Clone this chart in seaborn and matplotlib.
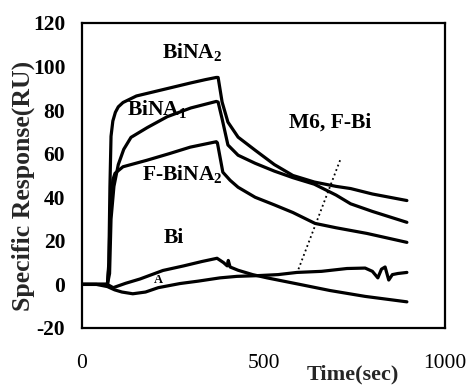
import matplotlib
matplotlib.use("Agg")
import matplotlib.pyplot as plt
import numpy as np
import pandas as pd
import seaborn as sns

# ---------------- data ----------------
bina2_t = [0, 40, 70, 74, 77, 80, 85, 92, 100, 113, 150, 200, 250, 300, 340, 370,
           375, 386, 402, 430, 477, 530, 581, 640, 700, 740, 800, 895]
bina2_v = [0, 0, 0, 10, 45, 68, 75, 79, 81.5, 83.5, 86.5, 88.5, 90.5, 92.5, 94, 95,
           95, 83.7, 74.5, 67.6, 61.6, 55, 50, 47, 45, 44, 41.5, 38.5]

bina1_t = [0, 40, 70, 76, 80, 88, 100, 115, 135, 180, 235, 300, 370,
           375, 386, 402, 430, 477, 530, 581, 640, 700, 740, 800, 895]
bina1_v = [0, 0, 0, 5, 30, 45, 55, 62, 67.5, 72, 77, 81, 84,
           83.7, 76, 64, 59.3, 55.6, 52, 49, 46, 41, 37, 33.5, 28.5]

fbina2_t = [0, 40, 70, 74, 78, 85, 91, 113, 179, 240, 298, 370,
            373, 388, 408, 430, 477, 530, 581, 642, 700, 785, 895]
fbina2_v = [0, 0, 0, 8, 35, 48, 51, 54, 57, 60, 63, 65.5,
            65, 51.5, 47.8, 44.6, 40, 36.5, 33, 28, 26, 23.4, 19.3]

bi_t = [0, 40, 70, 86, 120, 160, 223, 280, 330, 372, 390, 400, 403, 408,
        430, 470, 510, 600, 683, 780, 895]
bi_v = [0, 0, 0, -1.5, 0.5, 2.5, 6.4, 8.5, 10.5, 12, 10, 8.5, 11, 8,
        6.5, 4.5, 3, 0, -2.8, -5.5, -8]

a_t = [0, 40, 70, 90, 110, 140, 175, 210, 270, 320, 380, 427, 480, 540, 592,
       660, 730, 780, 800, 815, 825, 835, 845, 855, 870, 895]
a_v = [0, 0, -1, -2.5, -3.5, -4.3, -3.5, -1.5, 0.4, 1.5, 3, 3.7, 4, 4.5, 5.5,
       6, 7.3, 7.5, 6, 3, 7, 8, 2, 4.5, 5, 5.5]

pointer_t = [711, 595]
pointer_v = [57, 6.4]

series_names = ["BiNA2", "BiNA1", "F-BiNA2", "Bi", "A"]
series_t = [bina2_t, bina1_t, fbina2_t, bi_t, a_t]
series_v = [bina2_v, bina1_v, fbina2_v, bi_v, a_v]

x_ticks = [0, 500, 1000]
y_ticks = [-20, 0, 20, 40, 60, 80, 100, 120]

labels_text = ["BiNA$_2$", "BiNA$_1$", "F-BiNA$_2$", "Bi", "M6, F-Bi"]
labels_t = [303, 207, 277, 253, 683]
labels_v = [104, 77.7, 47.8, 18.9, 72]

# ---------------- style ----------------
sns.set_theme(style="white")
plt.rcParams["font.family"] = ["Liberation Serif", "DejaVu Serif"]
plt.rcParams["mathtext.fontset"] = "custom"
plt.rcParams["mathtext.rm"] = "Liberation Serif:bold"
plt.rcParams["mathtext.it"] = "Liberation Serif:bold"
plt.rcParams["mathtext.bf"] = "Liberation Serif:bold"
plt.rcParams["mathtext.default"] = "rm"

df = pd.concat(
    [pd.DataFrame({"time": t, "response": v, "series": n})
     for n, t, v in zip(series_names, series_t, series_v)],
    ignore_index=True,
)

fig = plt.figure(figsize=(4.72, 3.85), dpi=100)
ax = fig.add_axes([0.1737, 0.1481, 0.7691, 0.7922])

sns.lineplot(data=df, x="time", y="response", units="series", estimator=None,
             color="black", linewidth=2.3, legend=False, ax=ax, sort=False)
sns.lineplot(x=pointer_t, y=pointer_v, color="black", linewidth=1.3,
             linestyle=":", ax=ax, sort=False)

for txt, tx, vy in zip(labels_text, labels_t, labels_v):
    ax.text(tx, vy, txt, ha="center", va="baseline", fontsize=15.5,
            fontweight="bold", color="black")
ax.text(210, 0.5, "A", ha="center", va="baseline", fontsize=9,
        fontweight="bold", color="black")

ax.set_xlim(0, 1000)
ax.set_ylim(-20, 120)
ax.set_xticks(x_ticks)
ax.set_yticks(y_ticks)
ax.set_xticklabels([str(v) for v in x_ticks], fontsize=15.5)
ax.set_yticklabels([str(v) for v in y_ticks], fontsize=15.5, fontweight="bold")
ax.tick_params(axis="both", direction="in", length=3, width=1, colors="black")
ax.tick_params(axis="x", pad=19)
ax.tick_params(axis="y", pad=12)

for s in ax.spines.values():
    s.set_visible(True)
    s.set_linewidth(1.6)
    s.set_color("black")

ax.set_xlabel("Time(sec)", fontsize=16, fontweight="bold")
ax.xaxis.label.set_va("center")
ax.xaxis.set_label_coords(0.747, -0.154)
ax.set_ylabel("Specific Response(RU)", fontsize=18.5, fontweight="bold")
ax.yaxis.label.set_va("center")
ax.yaxis.set_label_coords(-0.161, (328 - 186) / 305)

ax.grid(False)
fig.savefig("out.png", dpi=100)
